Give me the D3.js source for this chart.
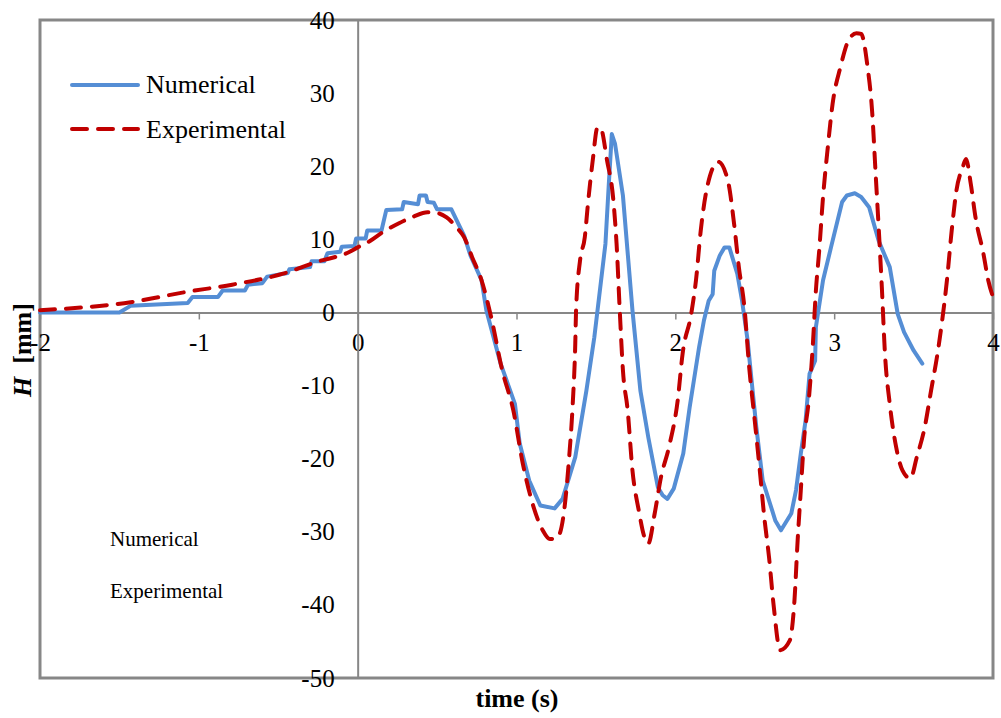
<!DOCTYPE html>
<html>
<head>
<meta charset="utf-8">
<script src="https://cdn.jsdelivr.net/npm/d3@7"></script>
<style>
    body { margin: 0; background: #fff; }
    svg { display: block; font-family: "Liberation Serif", "Times New Roman", serif; }
</style>
</head>
<body>
<script>
//time (s) and H (mm)
var numerical = [
    [-2.00, 0.0], [-1.50, 0.0], [-1.43, 0.9], [-1.07, 1.3], [-1.04, 2.1], [-0.88, 2.1],
    [-0.85, 3.0], [-0.71, 3.0], [-0.69, 3.8], [-0.60, 4.0], [-0.57, 4.9], [-0.44, 5.4],
    [-0.43, 5.9], [-0.30, 6.2], [-0.29, 7.0], [-0.21, 7.0], [-0.19, 8.1], [-0.11, 8.3],
    [-0.10, 9.0], [-0.02, 9.1], [-0.01, 10.1], [0.05, 10.1], [0.06, 11.2], [0.15, 11.2],
    [0.18, 14.0], [0.28, 14.1], [0.29, 15.1], [0.38, 14.8], [0.39, 16.0], [0.43, 16.0],
    [0.44, 15.1], [0.48, 15.0], [0.50, 14.1], [0.59, 14.1], [0.67, 10.5], [0.71, 7.8],
    [0.78, 4.4], [0.81, 0.3], [0.90, -7.0], [0.99, -12.5], [1.02, -17.9], [1.08, -23.0],
    [1.15, -26.4], [1.24, -26.8], [1.29, -25.5], [1.37, -19.8], [1.44, -10.7], [1.49, -3.4],
    [1.56, 9.4], [1.58, 17.1], [1.60, 24.4], [1.62, 23.1], [1.67, 16.0], [1.73, 0.3],
    [1.78, -10.7], [1.83, -17.1], [1.89, -23.9], [1.92, -25.0], [1.95, -25.5], [1.99, -24.1],
    [2.05, -19.3], [2.09, -13.0], [2.15, -4.7], [2.18, -1.1], [2.21, 1.6], [2.235, 2.5],
    [2.245, 5.7], [2.28, 7.8], [2.31, 8.9], [2.34, 8.9], [2.39, 5.3], [2.42, 1.6],
    [2.455, -3.8], [2.48, -9.3], [2.51, -15.7], [2.55, -23.0], [2.61, -27.1], [2.63, -28.5],
    [2.665, -29.8], [2.73, -27.5], [2.76, -24.3], [2.79, -19.3], [2.82, -14.8], [2.845, -8.4],
    [2.88, -6.6], [2.885, -2.0], [2.93, 4.4], [2.98, 8.9], [3.05, 15.1], [3.08, 16.0],
    [3.13, 16.3], [3.17, 15.8], [3.22, 14.4], [3.28, 9.8], [3.35, 6.2], [3.40, -0.2],
    [3.44, -2.7], [3.50, -5.2], [3.555, -7.0]
];

var experimental = [
    [-2.00, 0.3], [-1.43, 1.4], [-1.08, 2.8], [-0.79, 3.8], [-0.47, 5.3], [-0.26, 6.9],
    [-0.05, 8.3], [0.00, 8.9], [0.08, 9.8], [0.16, 11.0], [0.26, 12.2], [0.35, 13.1],
    [0.44, 13.7], [0.50, 13.6], [0.56, 13.0], [0.62, 11.7], [0.67, 10.3], [0.72, 7.6],
    [0.78, 4.4], [0.84, -0.6], [0.91, -7.9], [0.98, -13.4], [1.04, -20.7], [1.09, -25.3],
    [1.165, -29.8], [1.21, -31.0], [1.26, -30.7], [1.30, -27.1], [1.33, -20.2], [1.354, -12.5],
    [1.37, -4.3], [1.375, 0.3], [1.40, 7.1], [1.43, 10.3], [1.45, 14.9], [1.48, 20.8],
    [1.51, 25.3], [1.53, 25.2], [1.57, 20.8], [1.61, 15.3], [1.63, 9.4], [1.65, 0.3],
    [1.67, -7.9], [1.70, -13.4], [1.73, -21.6], [1.77, -27.1], [1.805, -30.7], [1.83, -31.6],
    [1.87, -27.5], [1.91, -22.5], [1.96, -18.4], [2.015, -12.0], [2.046, -5.6], [2.10, -0.2],
    [2.13, 4.4], [2.16, 11.2], [2.20, 17.1], [2.27, 20.6], [2.33, 18.1], [2.37, 12.1],
    [2.40, 6.2], [2.435, 0.7], [2.465, -7.5], [2.50, -14.8], [2.53, -21.2], [2.56, -28.0],
    [2.59, -33.5], [2.62, -40.3], [2.66, -46.2], [2.72, -44.9], [2.75, -39.4], [2.77, -31.2],
    [2.79, -24.3], [2.81, -17.5], [2.84, -12.0], [2.865, -4.7], [2.885, 3.0], [2.906, 8.5],
    [2.93, 15.8], [2.96, 22.6], [2.99, 28.5], [3.04, 33.6], [3.09, 37.2], [3.14, 38.2],
    [3.17, 38.1], [3.21, 33.6], [3.24, 27.2], [3.26, 19.4], [3.28, 11.7], [3.30, 3.5],
    [3.32, -5.7], [3.35, -12.5], [3.39, -18.4], [3.43, -21.6], [3.48, -22.7], [3.52, -19.8],
    [3.57, -15.7], [3.61, -10.7], [3.65, -5.7], [3.68, -1.1], [3.71, 4.4], [3.74, 11.2],
    [3.77, 16.7], [3.81, 19.9], [3.83, 21.0], [3.86, 17.6], [3.89, 13.0], [3.94, 8.0],
    [3.97, 4.4], [4.00, 2.1]
];

var xTicks = [-2, -1, 0, 1, 2, 3, 4];
var yTicks = [-50, -40, -30, -20, -10, 0, 10, 20, 30, 40];
var seriesNames = ["Numerical", "Experimental"];

var width = 1001,
    height = 718;

var svg = d3.select("body")
    .append("svg")
    .attr("width", width)
    .attr("height", height);

var x = d3.scaleLinear().domain([-2, 4]).range([40, 993]);
var y = d3.scaleLinear().domain([-50, 40]).range([678, 20]);

var axisColor = "#878787";

//plain hyphen for negatives, like the original
var fmt = function(d){ return String(d); };

//plot frame
svg.append("rect")
    .attr("x", x(-2))
    .attr("y", y(40))
    .attr("width", x(4) - x(-2))
    .attr("height", y(-50) - y(40))
    .attr("fill", "none")
    .attr("stroke", axisColor)
    .attr("stroke-width", 3);

//x axis through H = 0
var xAxis = svg.append("g")
    .attr("transform", "translate(0," + y(0) + ")")
    .call(d3.axisBottom(x).tickValues(xTicks).tickSize(7).tickSizeOuter(0).tickFormat(fmt));

//y axis through t = 0
var yAxis = svg.append("g")
    .attr("transform", "translate(" + x(0) + ",0)")
    .call(d3.axisLeft(y).tickValues(yTicks).tickSize(0).tickPadding(23).tickFormat(fmt));

svg.selectAll(".domain")
    .attr("stroke", axisColor)
    .attr("stroke-width", 2);
xAxis.selectAll(".tick line")
    .attr("stroke", axisColor)
    .attr("stroke-width", 1.5);
svg.selectAll(".tick text")
    .attr("font-family", "Liberation Serif")
    .attr("font-size", 25)
    .attr("fill", "#000");
xAxis.selectAll(".tick text")
    .attr("y", 39)
    .attr("dy", 0);

//data lines
var line = d3.line()
    .x(function(d){ return x(d[0]); })
    .y(function(d){ return y(d[1]); });

svg.append("path")
    .datum(numerical)
    .attr("d", line)
    .attr("fill", "none")
    .attr("stroke", "#558ED5")
    .attr("stroke-width", 4)
    .attr("stroke-linejoin", "round")
    .attr("stroke-linecap", "round");

svg.append("path")
    .datum(experimental)
    .attr("d", line.curve(d3.curveMonotoneX))
    .attr("fill", "none")
    .attr("stroke", "#C00000")
    .attr("stroke-width", 4)
    .attr("stroke-dasharray", "15,11")
    .attr("stroke-linejoin", "round")
    .attr("stroke-linecap", "round");

//axis titles
svg.append("text")
    .attr("x", 517)
    .attr("y", 707)
    .attr("text-anchor", "middle")
    .attr("font-size", 26)
    .attr("font-weight", "bold")
    .text("time (s)");

var yTitle = svg.append("text")
    .attr("transform", "translate(31,350) rotate(-90)")
    .attr("text-anchor", "middle")
    .attr("font-size", 26)
    .attr("font-weight", "bold");
yTitle.append("tspan").attr("font-style", "italic").text("H");
yTitle.append("tspan").text("\u00a0 [mm]");

//legend
var legend = svg.append("g");
legend.append("line")
    .attr("x1", 72).attr("x2", 138)
    .attr("y1", 85).attr("y2", 85)
    .attr("stroke", "#558ED5")
    .attr("stroke-width", 4)
    .attr("stroke-linecap", "round");
legend.append("line")
    .attr("x1", 72).attr("x2", 138)
    .attr("y1", 129).attr("y2", 129)
    .attr("stroke", "#C00000")
    .attr("stroke-width", 4)
    .attr("stroke-dasharray", "15,11")
    .attr("stroke-linecap", "round");
legend.selectAll(".big")
    .data(seriesNames)
    .enter()
    .append("text")
    .attr("class", "big")
    .attr("x", 146)
    .attr("y", function(d, i){ return 93 + i * 45; })
    .attr("font-size", 26)
    .text(function(d){ return d; });

//second, line-less legend
legend.selectAll(".small")
    .data(seriesNames)
    .enter()
    .append("text")
    .attr("class", "small")
    .attr("x", 110)
    .attr("y", function(d, i){ return 546 + i * 52; })
    .attr("font-size", 21)
    .text(function(d){ return d; });
</script>
</body>
</html>
